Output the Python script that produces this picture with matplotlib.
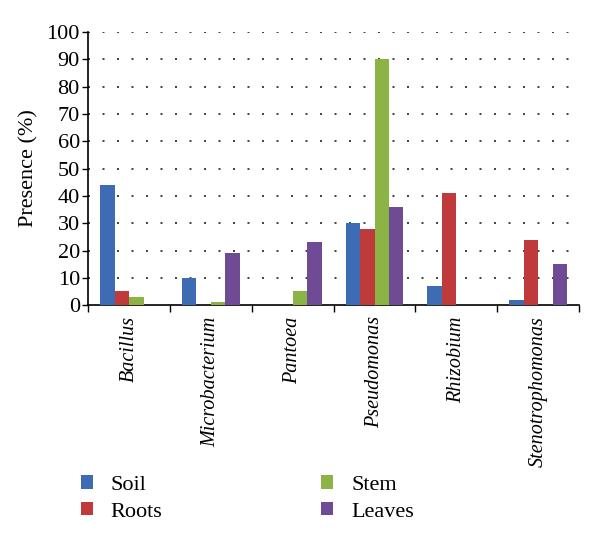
import matplotlib
matplotlib.use("Agg")
import matplotlib.pyplot as plt
import numpy as np

categories = ["Bacillus", "Microbacterium", "Pantoea", "Pseudomonas", "Rhizobium", "Stenotrophomonas"]
soil = [44, 10, 0, 30, 7, 2]
roots = [5, 0, 0, 28, 41, 24]
stem = [3, 1, 5, 90, 0, 0]
leaves = [0, 19, 23, 36, 0, 15]
series_names = ["Soil", "Roots", "Stem", "Leaves"]
colors = ["#3D6CB5", "#BE3A3B", "#8CB444", "#6E4B94"]
yticks = list(range(0, 101, 10))

plt.rcParams['font.family'] = ['Liberation Serif', 'DejaVu Serif']

fig = plt.figure(figsize=(6.0, 5.42), dpi=100)
ax = fig.add_axes([0.147, 0.437, 0.818, 0.504])

x = np.arange(len(categories))
w = 0.177
handles = []
for i, (vals, name, c) in enumerate(zip([soil, roots, stem, leaves], series_names, colors)):
    h = ax.bar(x + (i - 1.5) * w, vals, width=w, color=c, label=name, zorder=3)
    handles.append(h)

ax.set_xlim(-0.5, len(categories) - 0.5)
ax.set_ylim(0, 100)
ax.set_yticks(yticks)
ax.set_yticklabels([str(t) for t in yticks], fontsize=16)
for t in yticks[1:]:
    ax.axhline(t, color="#222222", linestyle=(0, (1.2, 7.5)), linewidth=1.2, zorder=1)

ax.set_xticks(np.arange(-0.5, len(categories), 1.0))
ax.set_xticklabels([])
ax.set_xticks(x, minor=True)
ax.set_xticklabels(categories, minor=True, rotation=90, fontsize=14.5, style='italic', va='top')
ax.tick_params(axis='x', which='minor', length=0, pad=8)
ax.tick_params(axis='x', which='major', length=5, direction='out', width=1)
ax.tick_params(axis='y', length=4, direction='out', width=1, pad=2)

for s in ["top", "right"]:
    ax.spines[s].set_visible(False)
for s in ["left", "bottom"]:
    ax.spines[s].set_linewidth(1.2)
    ax.spines[s].set_color("black")

ax.set_ylabel("Presence (%)", fontsize=16, labelpad=6)

fig.legend(handles=handles, labels=series_names, ncol=2, loc="upper left",
           bbox_to_anchor=(0.101, 0.16), frameon=False, fontsize=16,
           handlelength=0.55, handleheight=0.55, handletextpad=0.8,
           columnspacing=7.15, labelspacing=0.32)

fig.savefig("out.png", dpi=100)
